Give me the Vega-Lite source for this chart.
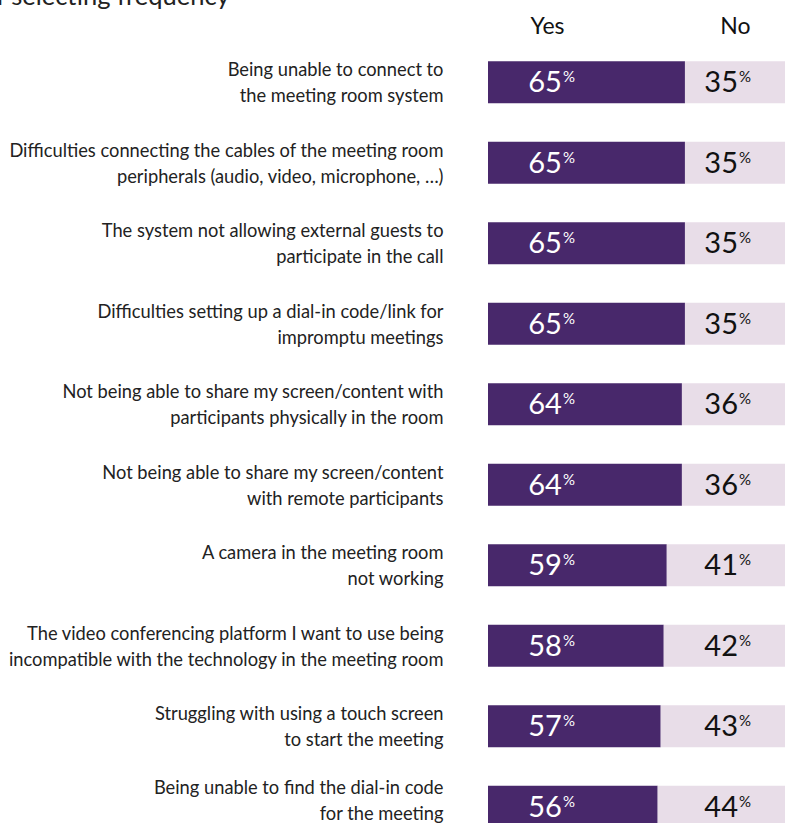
{
  "$schema": "https://vega.github.io/schema/vega-lite/v6.json",
  "width": 297,
  "height": 781,
  "autosize": {"type": "none"},
  "padding": {"left": 488, "top": 42, "right": 0, "bottom": 0},
  "background": "white",
  "config": {"view": {"stroke": null}, "font": "Lato"},
  "title": {
    "text": "of selecting frequency",
    "anchor": "start",
    "frame": "group",
    "orient": "top",
    "baseline": "alphabetic",
    "dx": -506,
    "dy": 15,
    "offset": 0,
    "fontSize": 25.5,
    "fontWeight": "normal",
    "font": "Lato",
    "color": "#222222"
  },
  "data": {
    "values": [
      {"issue": "Being unable to connect to|the meeting room system", "answer": "Yes", "value": 65},
      {"issue": "Being unable to connect to|the meeting room system", "answer": "No", "value": 35},
      {"issue": "Difficulties connecting the cables of the meeting room|peripherals (audio, video, microphone, …)", "answer": "Yes", "value": 65},
      {"issue": "Difficulties connecting the cables of the meeting room|peripherals (audio, video, microphone, …)", "answer": "No", "value": 35},
      {"issue": "The system not allowing external guests to|participate in the call", "answer": "Yes", "value": 65},
      {"issue": "The system not allowing external guests to|participate in the call", "answer": "No", "value": 35},
      {"issue": "Difficulties setting up a dial-in code/link for|impromptu meetings", "answer": "Yes", "value": 65},
      {"issue": "Difficulties setting up a dial-in code/link for|impromptu meetings", "answer": "No", "value": 35},
      {"issue": "Not being able to share my screen/content with|participants physically in the room", "answer": "Yes", "value": 64},
      {"issue": "Not being able to share my screen/content with|participants physically in the room", "answer": "No", "value": 36},
      {"issue": "Not being able to share my screen/content|with remote participants", "answer": "Yes", "value": 64},
      {"issue": "Not being able to share my screen/content|with remote participants", "answer": "No", "value": 36},
      {"issue": "A camera in the meeting room|not working", "answer": "Yes", "value": 59},
      {"issue": "A camera in the meeting room|not working", "answer": "No", "value": 41},
      {"issue": "The video conferencing platform I want to use being|incompatible with the technology in the meeting room", "answer": "Yes", "value": 58},
      {"issue": "The video conferencing platform I want to use being|incompatible with the technology in the meeting room", "answer": "No", "value": 42},
      {"issue": "Struggling with using a touch screen|to start the meeting", "answer": "Yes", "value": 57},
      {"issue": "Struggling with using a touch screen|to start the meeting", "answer": "No", "value": 43},
      {"issue": "Being unable to find the dial-in code|for the meeting", "answer": "Yes", "value": 56},
      {"issue": "Being unable to find the dial-in code|for the meeting", "answer": "No", "value": 44}
    ]
  },
  "encoding": {
    "y": {
      "field": "issue",
      "type": "nominal",
      "sort": null,
      "scale": {"range": [0, 805], "paddingInner": 0.48, "paddingOuter": 0.24},
      "axis": {
        "title": null,
        "orient": "left",
        "domain": false,
        "ticks": false,
        "tickSize": 0,
        "labelPadding": 45,
        "labelOffset": {"condition": {"test": "indexof(datum.label, 'find the dial-in') >= 0", "value": -18}, "value": -11},
        "labelLimit": 600,
        "labelFont": "Lato",
        "labelFontSize": 18.3,
        "labelLineHeight": 26,
        "labelColor": "#222222",
        "labelAlign": "right",
        "labelExpr": "split(datum.label, '|')"
      }
    }
  },
  "layer": [
    {
      "mark": {"type": "bar", "clip": true},
      "encoding": {
        "x": {
          "field": "value",
          "type": "quantitative",
          "stack": "zero",
          "scale": {"domain": [0, 100], "range": [0, 303], "nice": false, "zero": true},
          "axis": {
            "orient": "top",
            "title": null,
            "values": [19.5, 81.5],
            "labelExpr": "datum.value < 50 ? 'Yes' : 'No'",
            "grid": false,
            "domain": false,
            "ticks": false,
            "tickSize": 0,
            "labelPadding": 9,
            "labelBaseline": "alphabetic",
            "labelFont": "Lato",
            "labelFontSize": 23,
            "labelColor": "#111111",
            "labelAlign": "center"
          }
        },
        "color": {
          "field": "answer",
          "type": "nominal",
          "scale": {"domain": ["Yes", "No"], "range": ["#48286b", "#e8dde8"]},
          "legend": null
        },
        "order": {"field": "answer", "sort": "descending"}
      }
    },
    {
      "transform": [{"filter": "datum.answer === 'Yes'"}],
      "mark": {"type": "text", "align": "right", "baseline": "alphabetic", "dy": 10, "fontSize": 29, "fontWeight": "normal", "font": "Lato", "color": "white"},
      "encoding": {
        "x": {"datum": 24.4, "type": "quantitative"},
        "text": {"field": "value", "type": "quantitative"}
      }
    },
    {
      "transform": [{"filter": "datum.answer === 'Yes'"}],
      "mark": {"type": "text", "align": "left", "baseline": "alphabetic", "dx": 1, "dy": 0, "fontSize": 15, "fontWeight": "normal", "font": "Lato", "color": "white"},
      "encoding": {
        "x": {"datum": 24.4, "type": "quantitative"},
        "text": {"value": "%"}
      }
    },
    {
      "transform": [{"filter": "datum.answer === 'No'"}],
      "mark": {"type": "text", "align": "right", "baseline": "alphabetic", "dy": 10, "fontSize": 29, "fontWeight": "normal", "font": "Lato", "color": "#111111"},
      "encoding": {
        "x": {"datum": 82.5, "type": "quantitative"},
        "text": {"field": "value", "type": "quantitative"}
      }
    },
    {
      "transform": [{"filter": "datum.answer === 'No'"}],
      "mark": {"type": "text", "align": "left", "baseline": "alphabetic", "dx": 1, "dy": 0, "fontSize": 15, "fontWeight": "normal", "font": "Lato", "color": "#111111"},
      "encoding": {
        "x": {"datum": 82.5, "type": "quantitative"},
        "text": {"value": "%"}
      }
    }
  ]
}
